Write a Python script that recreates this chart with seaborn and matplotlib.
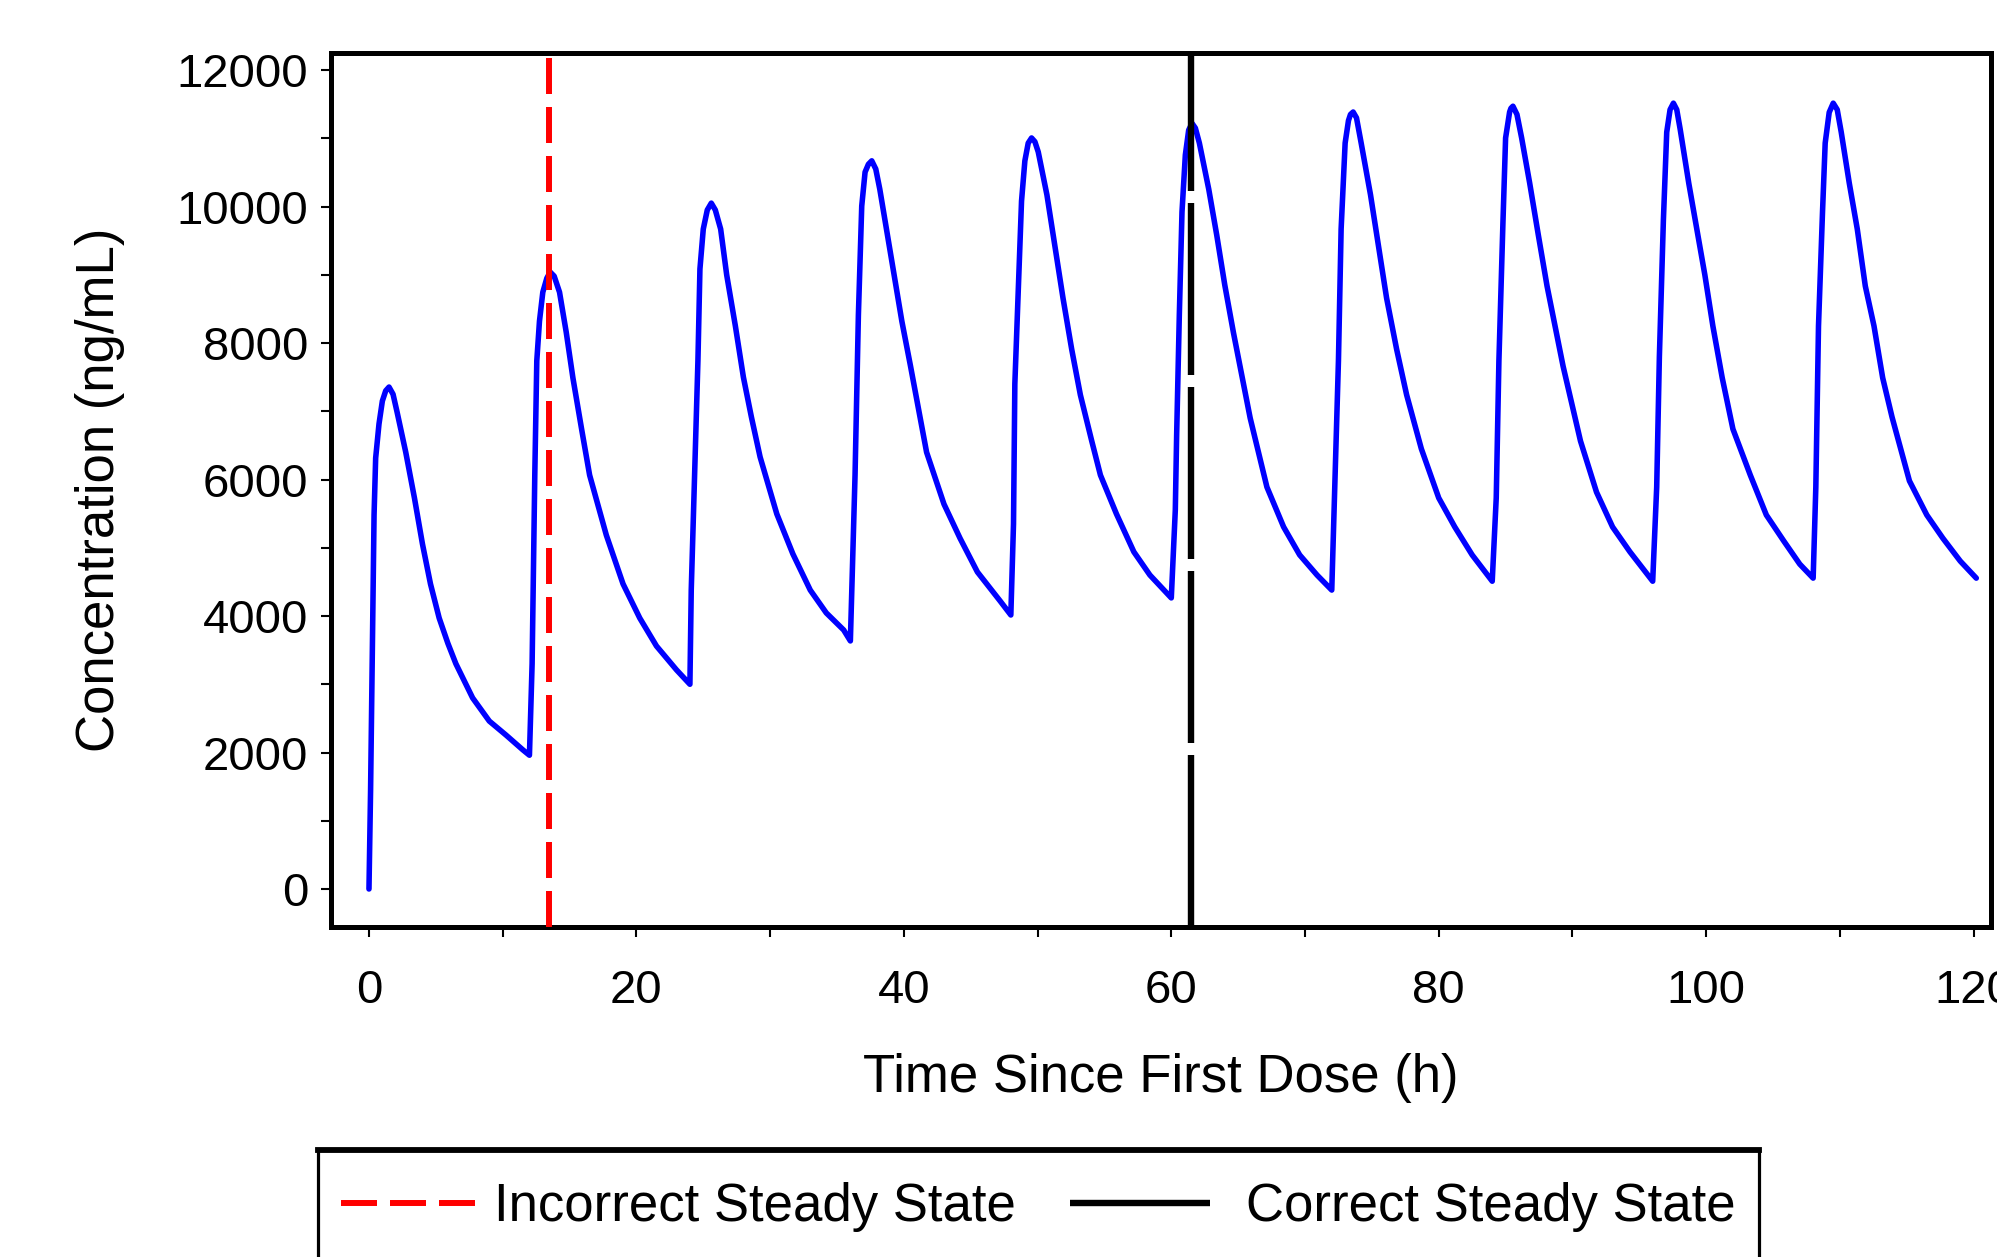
import matplotlib
matplotlib.use("Agg")
import matplotlib.pyplot as plt
from matplotlib.ticker import MultipleLocator
from matplotlib.patches import Rectangle
from matplotlib.lines import Line2D
import pandas as pd
import seaborn as sns

# ---------------- data ----------------
time_h = [
    0.0, 0.12, 0.25, 0.38, 0.5, 0.75, 1.0, 1.25, 1.5, 1.8, 2.1, 2.75, 3.4, 4.0, 4.6, 5.25, 5.9, 6.5, 7.75, 9.0, 10.25, 11.5, 12.0,
    12.2, 12.4, 12.55, 12.75, 13.0, 13.3, 13.55, 13.85, 14.25, 14.75, 15.25, 15.9, 16.5, 17.1, 17.75, 19.0, 20.25, 21.5, 23.0, 24.0,
    24.1, 24.4, 24.6, 24.75, 25.0, 25.3, 25.6, 25.9, 26.3, 26.75, 27.4, 28.0, 28.6, 29.25, 30.5, 31.7, 33.0, 34.2, 35.5, 36.0,
    36.35, 36.6, 36.85, 37.1, 37.35, 37.6, 37.9, 38.2, 38.7, 39.2, 39.85, 40.5, 41.7, 43.0, 44.2, 45.5, 47.2, 48.0,
    48.2, 48.3, 48.55, 48.8, 49.05, 49.3, 49.55, 49.8, 50.05, 50.7, 51.3, 51.9, 52.55, 53.2, 54.05, 54.7, 55.9, 57.2, 58.4, 60.0,
    60.3, 60.4, 60.6, 60.8, 61.05, 61.3, 61.55, 61.8, 62.1, 62.8, 63.4, 64.0, 64.65, 65.3, 65.9, 67.15, 68.4, 69.6, 70.9, 72.0,
    72.2, 72.5, 72.7, 73.0, 73.25, 73.4, 73.6, 73.85, 74.2, 74.9, 75.5, 76.1, 76.85, 77.6, 78.7, 80.0, 81.2, 82.5, 84.0,
    84.3, 84.5, 84.8, 85.0, 85.3, 85.4, 85.55, 85.85, 86.2, 86.8, 87.45, 88.1, 88.7, 89.3, 90.6, 91.8, 93.0, 94.3, 96.0,
    96.3, 96.5, 96.8, 97.05, 97.3, 97.55, 97.8, 98.05, 98.7, 99.3, 99.9, 100.5, 101.2, 102.0, 103.3, 104.5, 105.8, 107.0, 108.0,
    108.2, 108.4, 108.7, 108.9, 109.2, 109.5, 109.8, 110.1, 110.7, 111.3, 111.9, 112.55, 113.2, 113.9, 115.2, 116.5, 117.7, 119.0, 120.2,
]
conc_ng_ml = [
    0, 1450, 3460, 5480, 6315, 6815, 7150, 7300, 7355, 7250, 6990, 6400, 5730, 5055, 4470, 3970, 3600, 3300, 2800, 2460, 2255, 2040, 1960,
    3300, 6065, 7740, 8320, 8745, 8950, 9040, 8980, 8745, 8160, 7490, 6740, 6065, 5640, 5185, 4470, 3970, 3560, 3210, 3000,
    4380, 6400, 7740, 9085, 9670, 9950, 10050, 9950, 9670, 9000, 8250, 7500, 6915, 6330, 5495, 4910, 4380, 4045, 3795, 3635,
    6065, 8410, 10007, 10505, 10620, 10670, 10550, 10255, 9670, 9085, 8320, 7660, 6400, 5640, 5140, 4645, 4220, 4015,
    5350, 7400, 8745, 10080, 10670, 10930, 11005, 10950, 10800, 10170, 9420, 8660, 7910, 7240, 6565, 6065, 5495, 4940, 4600, 4265,
    5555, 6650, 8410, 9920, 10755, 11120, 11220, 11150, 10930, 10255, 9580, 8850, 8150, 7500, 6900, 5890, 5305, 4895, 4600, 4380,
    5730, 7740, 9670, 10930, 11260, 11350, 11385, 11300, 10930, 10170, 9420, 8660, 7910, 7240, 6450, 5730, 5305, 4895, 4510,
    5730, 7740, 9755, 11005, 11385, 11440, 11470, 11350, 11005, 10345, 9580, 8835, 8250, 7660, 6565, 5815, 5305, 4940, 4510,
    5890, 7800, 9800, 11090, 11420, 11515, 11420, 11140, 10340, 9670, 9000, 8250, 7490, 6740, 6065, 5480, 5100, 4760, 4555,
    5890, 8250, 9920, 10930, 11380, 11515, 11420, 11090, 10345, 9670, 8835, 8250, 7490, 6915, 5980, 5480, 5140, 4805, 4555,
]
incorrect_ss_time = 13.5
correct_ss_time = 61.5
x_ticks = [0, 20, 40, 60, 80, 100, 120]
y_ticks = [0, 2000, 4000, 6000, 8000, 10000, 12000]
x_label = "Time Since First Dose (h)"
y_label = "Concentration (ng/mL)"
legend_labels = ["Incorrect Steady State", "Correct Steady State"]

# ---------------- styling ----------------
sns.set_theme(style="ticks")
plt.rcParams["font.family"] = ["Liberation Sans", "DejaVu Sans"]

W, H = 1997, 1257
fig = plt.figure(figsize=(W / 100, H / 100), dpi=100)
fig.patch.set_facecolor("white")
ax = fig.add_axes([331 / W, 1 - 927 / H, (1991 - 331) / W, (927 - 53) / H])
ax.set_facecolor("white")

df = pd.DataFrame({"time": time_h, "conc": conc_ng_ml})
sns.lineplot(data=df, x="time", y="conc", sort=False, estimator=None,
             color="#0000FF", linewidth=4.0, ax=ax, legend=False, zorder=2)

red_lw = 4.3
blk_lw = 4.6
red_style = (0, (36 * 0.72 / red_lw, 13 * 0.72 / red_lw))
blk_style = (0, (172 * 0.72 / blk_lw, 12 * 0.72 / blk_lw))
ax.axvline(incorrect_ss_time, color="#FF0000", lw=red_lw, linestyle=red_style, zorder=3)
ax.axvline(correct_ss_time, color="black", lw=blk_lw, linestyle=blk_style, zorder=3)

ax.set_xlim(-2.84, 121.3)
ax.set_ylim(-557, 12250)
ax.set_xticks(x_ticks)
ax.set_yticks(y_ticks)
ax.xaxis.set_minor_locator(MultipleLocator(10))
ax.yaxis.set_minor_locator(MultipleLocator(1000))
ax.tick_params(axis="both", which="both", direction="out", length=7.5, width=1.5,
               color="black", labelcolor="black")
ax.tick_params(axis="both", which="major", labelsize=34)
ax.tick_params(axis="x", which="major", pad=22.5)
ax.tick_params(axis="y", which="major", pad=9)

for s in ax.spines.values():
    s.set_visible(True)
    s.set_linewidth(3.6)
    s.set_color("black")
ax.grid(False)

ax.set_xlabel(x_label, fontsize=38, color="black")
ax.set_ylabel(y_label, fontsize=38, color="black")
ax.xaxis.set_label_coords(0.5, (927 - 1078) / 874)
ax.xaxis.label.set_va("center")
ax.yaxis.set_label_coords((100 - 331) / 1660, 0.5)
ax.yaxis.label.set_va("center")

# ---------------- legend (two entries, frame drawn separately) ----------------
h_red = Line2D([], [], color="#FF0000", lw=red_lw, linestyle=red_style)
h_blk = Line2D([], [], color="black", lw=blk_lw, linestyle=blk_style)
leg_y = 1 - 1207 / H
leg1 = fig.legend(handles=[h_red], labels=[legend_labels[0]], loc="center left",
                  bbox_to_anchor=(341 / W, leg_y), fontsize=38, frameon=False,
                  handlelength=2.65, handletextpad=0.25, borderpad=0, borderaxespad=0)
leg2 = fig.legend(handles=[h_blk], labels=[legend_labels[1]], loc="center left",
                  bbox_to_anchor=(1070 / W, leg_y), fontsize=38, frameon=False,
                  handlelength=2.65, handletextpad=0.68, borderpad=0, borderaxespad=0)
for lg in (leg1, leg2):
    for t in lg.get_texts():
        t.set_color("black")

x0, x1 = 318 / W, 1759 / W
ytop = 1 - 1150 / H
ybot = 1 - 1270 / H
fig.add_artist(Rectangle((x0, ybot), x1 - x0, ytop - ybot, transform=fig.transFigure,
                         fill=False, edgecolor="black", lw=2.3))
fig.add_artist(Line2D([x0, x1], [ytop, ytop], transform=fig.transFigure,
                      color="black", lw=4.2, solid_capstyle="projecting"))

fig.savefig("out.png", dpi=100, facecolor="white")
